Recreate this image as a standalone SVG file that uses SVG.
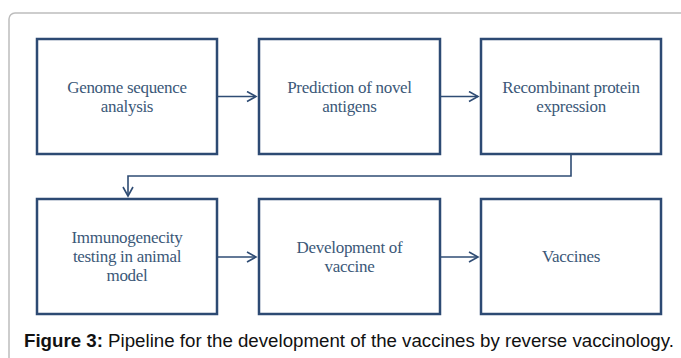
<svg xmlns="http://www.w3.org/2000/svg" width="681" height="358" viewBox="0 0 681 358">
<style>
.box{fill:#fff;stroke:#2d4a73;stroke-width:2.5}
.lbl{font-family:"Liberation Serif","Times New Roman",serif;font-size:17px;fill:#3b5878;text-anchor:middle;letter-spacing:-0.3px}
.conn{fill:none;stroke:#2f4c74;stroke-width:1.6}
.cap{font-family:"Liberation Sans",Arial,sans-serif;font-size:18.7px;fill:#111}
</style>
<defs>
<marker id="arr" markerUnits="userSpaceOnUse" markerWidth="14" markerHeight="14" refX="10" refY="6" orient="auto">
<path d="M1,1 L10,6 L1,11" fill="none" stroke="#2f4c74" stroke-width="1.6"/>
</marker>
</defs>
<rect width="681" height="358" fill="#fff"/>
<rect x="9" y="13" width="720" height="420" rx="6" fill="#fff" stroke="#bdbdbd" stroke-width="1.5"/>
<g id="n1"><rect class="box" x="37" y="39" width="180" height="115"/><text class="lbl" x="127" y="93.3">Genome sequence</text><text class="lbl" x="127" y="111.7">analysis</text></g>
<g id="n2"><rect class="box" x="259" y="39" width="181" height="115"/><text class="lbl" x="349.5" y="93.3">Prediction of novel</text><text class="lbl" x="349.5" y="111.7">antigens</text></g>
<g id="n3"><rect class="box" x="481" y="39" width="180" height="115"/><text class="lbl" x="571" y="93.3">Recombinant protein</text><text class="lbl" x="571" y="111.7">expression</text></g>
<g id="n4"><rect class="box" x="37" y="199" width="180" height="115"/><text class="lbl" x="127" y="243">Immunogenecity</text><text class="lbl" x="127" y="262">testing in animal</text><text class="lbl" x="127" y="281">model</text></g>
<g id="n5"><rect class="box" x="259" y="199" width="181" height="115"/><text class="lbl" x="349.5" y="253">Development of</text><text class="lbl" x="349.5" y="272">vaccine</text></g>
<g id="n6"><rect class="box" x="481" y="199" width="180" height="115"/><text class="lbl" x="571" y="262">Vaccines</text></g>
<g id="connectors">
<path class="conn" d="M217,96.5 H256" marker-end="url(#arr)"/>
<path class="conn" d="M440,96.5 H478" marker-end="url(#arr)"/>
<path class="conn" d="M571,154 V176 H128 V196" marker-end="url(#arr)"/>
<path class="conn" d="M217,257 H256" marker-end="url(#arr)"/>
<path class="conn" d="M440,257 H478" marker-end="url(#arr)"/>
</g>
<text class="cap" x="24" y="347"><tspan font-weight="bold">Figure 3:</tspan> Pipeline for the development of the vaccines by reverse vaccinology.</text>
</svg>
